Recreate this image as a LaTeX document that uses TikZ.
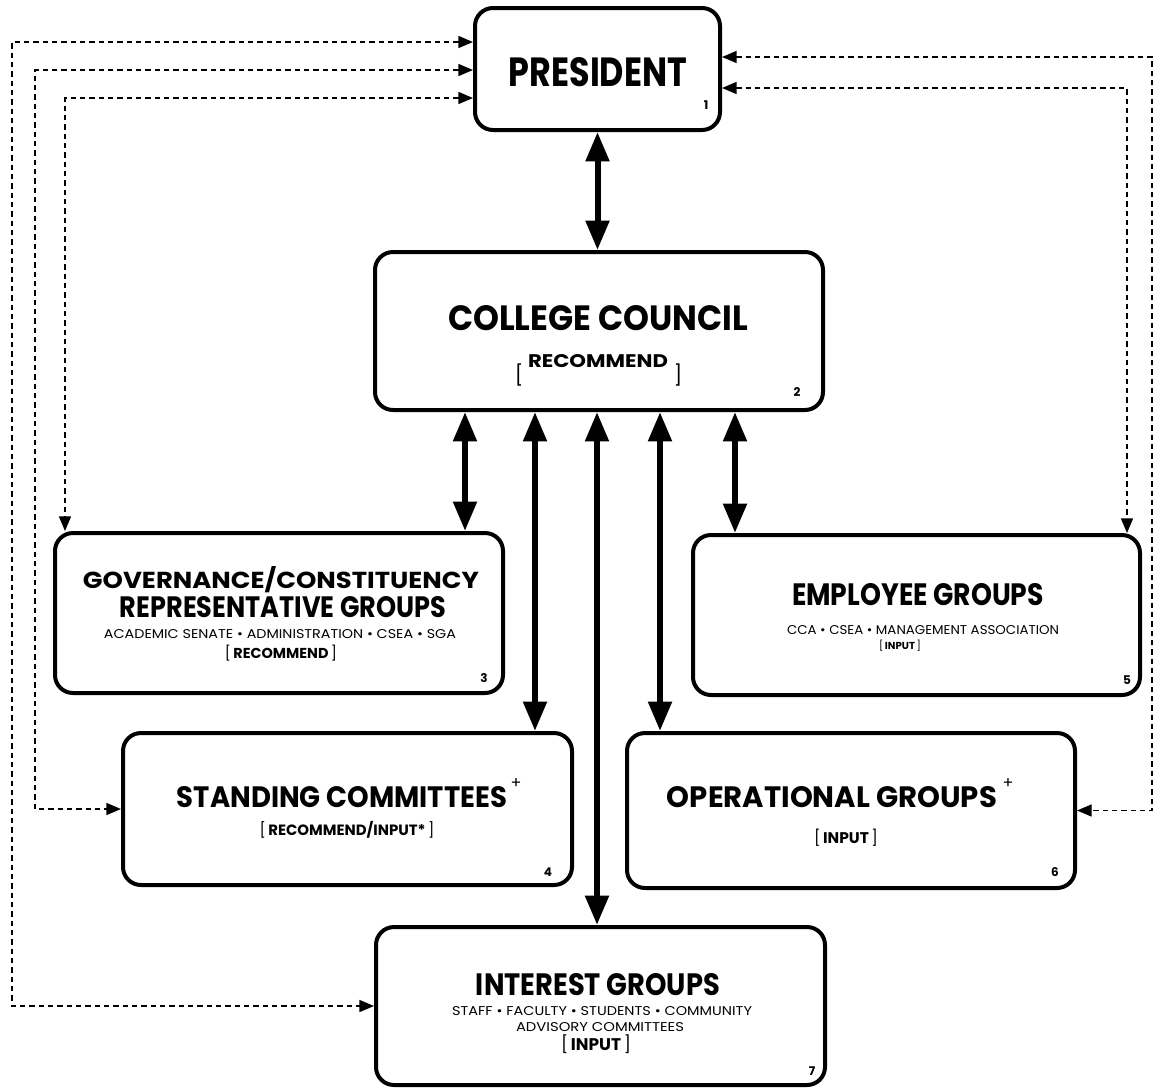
\documentclass[tikz,border=0pt]{standalone}
\usepackage{graphicx}
\usepackage{fontspec}
\setmainfont{Poppins}
\usetikzlibrary{arrows.meta,calc}
\newdimen\pxu \pxu=0.75pt
\newcommand\tb[3]{\resizebox{#1\pxu}{#2\pxu}{\bfseries #3}}
\newcommand\tr[3]{\resizebox{#1\pxu}{#2\pxu}{#3}}
\newcommand\tk[2]{\resizebox{#1\pxu}{!}{#2}}
\begin{document}
\begin{tikzpicture}[x=0.75pt,y=-0.75pt,
  box/.style={draw, line width=3pt, rounded corners=13.5pt, inner sep=0pt},
  txt/.style={inner sep=0pt},
  num/.style={inner sep=0pt, font=\fontsize{9}{10}\selectfont\bfseries},
  plus/.style={inner sep=0pt, font=\fontsize{12}{12}\selectfont},
  brk/.style={inner sep=0pt, font=\fontsize{15}{15}\selectfont},
  biarrow/.style={line width=4.5pt, {Triangle[length=22pt,width=17pt]}-{Triangle[length=22pt,width=17pt]}},
  dshb/.style={line width=1.2pt, dash pattern=on 4pt off 3pt, {Triangle[length=11pt,width=9pt]}-{Triangle[length=11pt,width=9pt]}}
]
\useasboundingbox (0,0) rectangle (1157,1090);

% boxes
\node[box, minimum width=183.75pt, minimum height=91.5pt] (pres) at (597.5,69) {};
\node[box, minimum width=336pt, minimum height=118.5pt] (council) at (599,331) {};
\node[box, minimum width=336pt, minimum height=120pt] (gov) at (279,613) {};
\node[box, minimum width=335.25pt, minimum height=120pt] (emp) at (916.5,615) {};
\node[box, minimum width=336.75pt, minimum height=114pt] (stand) at (347.5,809) {};
\node[box, minimum width=336pt, minimum height=116.25pt] (oper) at (851,810.5) {};
\node[box, minimum width=336.75pt, minimum height=118.5pt] (inter) at (600.5,1006) {};

% texts
\node[txt] (presT) at (598,72) {\tb{178}{29}{PRESIDENT}};
\node[num] (presN) at (706,105) {1};

\node[txt] (ccT) at (598,318) {\tb{300}{25}{COLLEGE COUNCIL}};
\node[txt] (ccR) at (598,361) {\tb{140}{13}{RECOMMEND}};
\node[brk] (ccBL) at (519,375) {[};
\node[brk] (ccBR) at (678,375) {]};
\node[num] (ccN) at (797,392) {2};

\node[txt] (govT1) at (281,580) {\tb{396}{22}{GOVERNANCE/CONSTITUENCY}};
\node[txt] (govT2) at (283,607) {\tb{326}{21}{REPRESENTATIVE GROUPS}};
\node[txt] (govS) at (280,634) {\tr{352}{9}{ACADEMIC SENATE • ADMINISTRATION • CSEA • SGA}};
\node[txt] (govR) at (281,653) {\tk{112}{[\,{\bfseries RECOMMEND}\,]}};
\node[num] (govN) at (484,678) {3};

\node[txt] (empT) at (918,595) {\tb{252}{22}{EMPLOYEE GROUPS}};
\node[txt] (empS) at (923,630) {\tr{272}{9}{CCA • CSEA • MANAGEMENT ASSOCIATION}};
\node[txt] (empR) at (900,646) {\tk{42}{[\,{\bfseries INPUT}\,]}};
\node[num] (empN) at (1127,680) {5};

\node[txt] (stT) at (342,797) {\tb{330}{21}{STANDING COMMITTEES}};
\node[plus] (stP) at (516,784) {+};
\node[txt] (stR) at (347,830) {\tk{175}{[\,{\bfseries RECOMMEND/INPUT*}\,]}};
\node[num] (stN) at (548,872) {4};

\node[txt] (opT) at (832,797) {\tb{330}{21}{OPERATIONAL GROUPS}};
\node[plus] (opP) at (1008,784) {+};
\node[txt] (opR) at (846,838) {\tk{64}{[\,{\bfseries INPUT}\,]}};
\node[num] (opN) at (1055,872) {6};

\node[txt] (inT) at (598,985) {\tb{244}{22}{INTEREST GROUPS}};
\node[txt] (inS) at (602,1011) {\tr{300}{9}{STAFF • FACULTY • STUDENTS • COMMUNITY}};
\node[txt] (inA) at (600,1027) {\tr{168}{9}{ADVISORY COMMITTEES}};
\node[txt] (inR) at (596,1044) {\tk{70}{[\,{\bfseries INPUT}\,]}};
\node[num] (inN) at (812,1071) {7};

% solid double arrows
\coordinate (xg) at (465,0);
\coordinate (xs) at (535,0);
\coordinate (xi) at (597,0);
\coordinate (xo) at (660,0);
\coordinate (xe) at (735,0);
\draw[biarrow] (pres.south) -- (pres.south |- council.north);
\draw[biarrow] (council.south -| xg) -- (gov.north -| xg);
\draw[biarrow] (council.south -| xs) -- (stand.north -| xs);
\draw[biarrow] (council.south -| xi) -- (inter.north -| xi);
\draw[biarrow] (council.south -| xo) -- (oper.north -| xo);
\draw[biarrow] (council.south -| xe) -- (emp.north -| xe);

% dashed connectors
\coordinate (L1) at (12,42);
\coordinate (L2) at (35,70);
\coordinate (L3) at (65,98);
\coordinate (R1) at (1152,57);
\coordinate (R2) at (1127,88);
\draw[dshb] (pres.west |- L1) -- (L1) |- (inter.west);
\draw[dshb] (pres.west |- L2) -- (L2) |- (stand.west);
\draw[dshb] (pres.west |- L3) -- (L3) -- (gov.north -| L3);
\draw[dshb] (pres.east |- R1) -- (R1) |- (oper.east);
\draw[dshb] (pres.east |- R2) -- (R2) -- (emp.north -| R2);
\end{tikzpicture}
\end{document}
